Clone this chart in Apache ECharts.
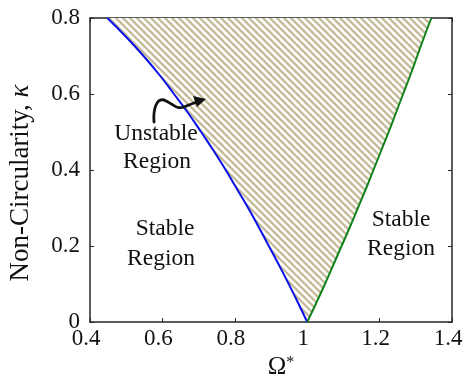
<!DOCTYPE html>
<html>
<head>
<meta charset="utf-8">
<script src="https://cdn.jsdelivr.net/npm/echarts@6/dist/echarts.min.js"></script>
<style>
  html, body { margin: 0; padding: 0; background: #fff; }
  #chart { width: 463px; height: 378px; }
</style>
</head>
<body>
<div id="chart"></div>
<script>
// Stability boundaries: non-circularity kappa vs. frequency ratio Omega*
var kappa      = [0, 0.05, 0.10, 0.15, 0.20, 0.25, 0.30, 0.35, 0.40, 0.45, 0.50, 0.55, 0.60, 0.65, 0.70, 0.75, 0.80];
var omegaLower = [1.00, 0.975, 0.949, 0.922, 0.894, 0.866, 0.837, 0.806, 0.775, 0.742, 0.707, 0.671, 0.632, 0.592, 0.548, 0.500, 0.448];
var omegaUpper = [1.00, 1.025, 1.049, 1.072, 1.095, 1.118, 1.140, 1.162, 1.183, 1.204, 1.225, 1.245, 1.265, 1.285, 1.304, 1.323, 1.343];
var xTicks = [0.4, 0.6, 0.8, 1.0, 1.2, 1.4];
var yTicks = [0, 0.2, 0.4, 0.6, 0.8];

var FONT = '"Liberation Serif", "Times New Roman", serif';
var AXIS_COLOR = '#262626';
var TEXT_COLOR = '#111111';

// diagonal hatch used for the unstable band
function hatchPattern() {
  var p = 7;
  var c = document.createElement('canvas');
  c.width = p; c.height = p;
  var ctx = c.getContext('2d');
  ctx.fillStyle = '#ffffff';
  ctx.fillRect(0, 0, p, p);
  ctx.strokeStyle = '#c6bb99';
  ctx.lineWidth = 2.3;
  for (var k = -1; k <= 1; k++) {
    ctx.beginPath();
    ctx.moveTo(k * p - 1, -1);
    ctx.lineTo(k * p + p + 1, p + 1);
    ctx.stroke();
  }
  return c;
}

var lowerCurve = kappa.map(function (k, i) { return [omegaLower[i], k]; });
var upperCurve = kappa.map(function (k, i) { return [omegaUpper[i], k]; });

var chart = echarts.init(document.getElementById('chart'), null, { renderer: 'canvas' });

function axisCommon(showLabels) {
  return {
    axisLine: { show: true, onZero: false, lineStyle: { color: AXIS_COLOR, width: 1.5 } },
    axisTick: { show: true, inside: true, length: 4, lineStyle: { color: AXIS_COLOR, width: 1 } },
    splitLine: { show: false },
    axisLabel: {
      show: showLabels, color: TEXT_COLOR, fontFamily: FONT, fontSize: 23
    }
  };
}

var xBottom = Object.assign(axisCommon(true), {
  type: 'value', position: 'bottom',
  min: xTicks[0], max: xTicks[xTicks.length - 1], interval: 0.2,
  name: '{o|Ω}{s|*}', nameLocation: 'middle', nameGap: 30,
  nameTextStyle: {
    padding: [0, 0, 0, 20],
    rich: {
      o: { fontFamily: FONT, fontSize: 25, color: TEXT_COLOR },
      s: { fontFamily: FONT, fontSize: 16, color: TEXT_COLOR, verticalAlign: 'top', padding: [0, 0, 9, 0] }
    }
  }
});
xBottom.axisLabel.margin = 5;
xBottom.axisLabel.padding = [0, 8, 0, 0];

var xTop = Object.assign(axisCommon(false), {
  type: 'value', position: 'top',
  min: xTicks[0], max: xTicks[xTicks.length - 1], interval: 0.2
});

var yLeft = Object.assign(axisCommon(true), {
  type: 'value', position: 'left',
  min: yTicks[0], max: yTicks[yTicks.length - 1], interval: 0.2,
  name: '{t|Non-Circularity, }{k|κ}', nameLocation: 'middle', nameGap: 56,
  nameTextStyle: {
    padding: [0, 26, 0, 0],
    rich: {
      t: { fontFamily: FONT, fontSize: 27, color: TEXT_COLOR },
      k: { fontFamily: FONT, fontSize: 27, fontStyle: 'italic', color: TEXT_COLOR }
    }
  }
});
yLeft.axisLabel.margin = 10;

var yRight = Object.assign(axisCommon(false), {
  type: 'value', position: 'right',
  min: yTicks[0], max: yTicks[yTicks.length - 1], interval: 0.2
});

function label(text, x, y) {
  return {
    type: 'text', x: x, y: y, z: 10,
    style: { text: text, font: '23.5px ' + FONT, fill: TEXT_COLOR, align: 'center', verticalAlign: 'middle' }
  };
}

function curve(x1, y1, cx1, cy1, cx2, cy2, x2, y2) {
  return {
    type: 'bezierCurve', z: 10,
    shape: { x1: x1, y1: y1, cpx1: cx1, cpy1: cy1, cpx2: cx2, cpy2: cy2, x2: x2, y2: y2 },
    style: { stroke: '#111', lineWidth: 2.8, fill: null, lineCap: 'round' }
  };
}

var option = {
  animation: false,
  backgroundColor: '#ffffff',
  grid: { left: 90, top: 18, right: 11, bottom: 56, containLabel: false, outerBoundsMode: 'none' },
  xAxis: [xBottom, xTop],
  yAxis: [yLeft, yRight],
  series: [
    {
      type: 'custom',
      name: 'Unstable',
      clip: true,
      z: 1,
      data: [0],
      renderItem: function (params, api) {
        var pts = [];
        lowerCurve.forEach(function (d) { pts.push(api.coord(d)); });
        for (var i = upperCurve.length - 1; i >= 0; i--) pts.push(api.coord(upperCurve[i]));
        return {
          type: 'polygon',
          shape: { points: pts },
          style: { fill: { image: hatchPattern(), repeat: 'repeat' }, stroke: null }
        };
      }
    },
    {
      type: 'line', name: 'Lower boundary', data: lowerCurve,
      smooth: true, showSymbol: false, z: 3,
      lineStyle: { color: '#0a10e8', width: 2 }
    },
    {
      type: 'line', name: 'Upper boundary', data: upperCurve,
      smooth: true, showSymbol: false, z: 3,
      lineStyle: { color: '#12821a', width: 2 }
    }
  ],
  graphic: [
    label('Unstable', 156, 134),
    label('Region', 157, 162),
    label('Stable', 165, 229),
    label('Region', 161, 259),
    label('Stable', 401, 220),
    label('Region', 401, 249),
    // curved pointer into the hatched band
    curve(154, 122, 153, 108, 157, 98, 164, 100),
    curve(164, 100, 172, 103, 176, 110, 184, 107),
    curve(184, 107, 189, 105, 193, 103, 197, 102),
    {
      type: 'polygon', z: 10,
      shape: { points: [[206, 99], [193, 96], [197, 107]] },
      style: { fill: '#111' }
    }
  ]
};

chart.setOption(option);
</script>
</body>
</html>
